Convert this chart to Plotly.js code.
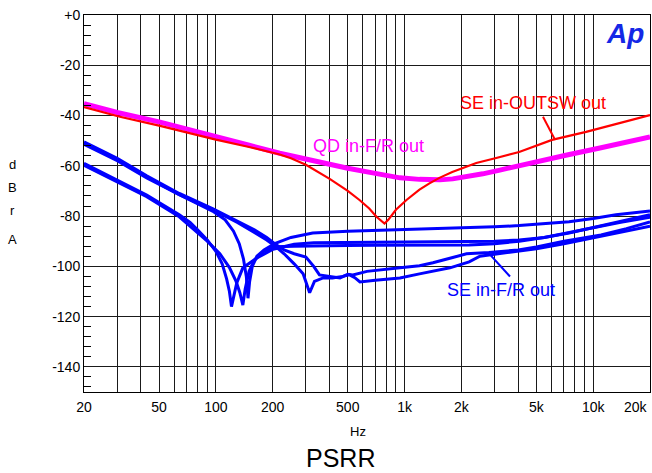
<!DOCTYPE html>
<html>
<head>
<meta charset="utf-8">
<script src="https://cdn.plot.ly/plotly-3.0.1.min.js"></script>
<style>html,body{margin:0;padding:0;background:#fff;}#chart{width:652px;height:473px;}</style>
</head>
<body>
<div id="chart"></div>
<script>
// ---- data ----
const redFreq = [20, 31, 50, 90, 100, 150, 218, 250, 300, 401, 500, 577, 650, 710, 750, 783, 820, 900, 1024, 1200, 1355, 1530, 1790, 2400, 3060, 4050, 6050, 9170, 13000, 20000];
const redDb   = [-36.6, -40.5, -44, -48.8, -49.6, -52.5, -55.5, -57, -59.6, -65.2, -70, -73.6, -77, -80.3, -82, -83, -81.5, -77.5, -73.6, -69.5, -67, -64.8, -62.5, -58.9, -56.9, -54.5, -49.7, -46.5, -43.5, -39.8];

const magFreq = [20, 30, 50, 90, 150, 218, 300, 500, 700, 946, 1200, 1540, 1800, 2140, 2600, 3200, 4790, 7260, 10850, 14500, 20000];
const magDb   = [-35.3, -38.8, -42.5, -47.7, -51.8, -55, -57.5, -61, -63, -64.8, -65.4, -65.6, -65.2, -64.4, -63.2, -61.7, -58.5, -55.7, -52.9, -50.8, -48.5];

const b1Freq = [20, 30, 43, 64, 73, 80, 90, 100, 108, 114, 118, 121, 125, 129, 139, 165, 201, 260, 330, 500, 700, 1000, 1500, 2200, 3000, 4050, 5500, 7450, 10000, 14000, 20000];
const b1Db   = [-59, -65.5, -71.6, -79.5, -82.5, -85.5, -89.5, -94, -99, -105, -110, -116, -111, -106.6, -100.6, -96.7, -93.2, -91.2, -90.6, -90.5, -90.5, -90.3, -90.3, -90.3, -90, -89.5, -88.5, -86.7, -84.5, -82, -79.5];

const b2Freq = [20, 30, 43, 64, 73, 90, 105, 118, 128, 134, 139, 143, 150, 160, 180, 205, 260, 330, 500, 700, 1000, 1500, 2200, 3000, 4050, 5500, 7450, 10000, 14000, 20000];
const b2Db   = [-59.8, -66.3, -72.3, -80.3, -84, -90, -95, -100.5, -106, -110.5, -115.4, -109, -102, -97.5, -94, -92.2, -92, -91.8, -91.7, -91.6, -91.5, -91.5, -91.5, -91, -90, -88.5, -86.5, -84.5, -82.5, -80.5];

const b3Freq = [20, 30, 43, 64, 96, 112, 124, 133, 140, 145, 148, 151, 156, 165, 180, 205, 250, 326, 500, 700, 1000, 1500, 2200, 3000, 4050, 5500, 7450, 10000, 13200, 20000];
const b3Db   = [-51, -57.5, -64.4, -71.5, -78, -81.5, -86, -91, -97, -104, -112.7, -106, -100, -96, -93.5, -91, -88.5, -86.7, -86, -85.7, -85.5, -85.2, -84.7, -84.3, -83.8, -83, -82.3, -81, -79.5, -78];

const b4Freq = [20, 30, 43, 64, 96, 130, 160, 186, 205, 230, 260, 300, 330, 354, 415, 455, 500, 532, 632, 750, 946, 1200, 1414, 1800, 2130, 2800, 4000, 5000, 7000, 11000, 15000, 20000];
const b4Db   = [-50.5, -57, -64, -71, -77, -82, -85.5, -88.5, -91, -93.5, -95, -96.3, -100, -103.4, -104.2, -104.6, -103.2, -103.4, -102, -101.5, -100.6, -99.8, -98.6, -96.5, -95, -94.5, -93.5, -92.3, -90, -87.5, -85, -82.3];

const b5Freq = [20, 30, 43, 64, 96, 130, 160, 186, 205, 230, 260, 290, 314, 333, 370, 415, 470, 511, 545, 580, 700, 800, 945, 1200, 1500, 1740, 2200, 2510, 3500, 5000, 7000, 11000, 15000, 20000];
const b5Db   = [-51.5, -58, -64.8, -71.5, -77.5, -82.5, -86.5, -89.5, -91.8, -95, -99, -103, -110.5, -106, -104.6, -104.6, -104, -103.4, -104.5, -106.2, -105.5, -105, -104.6, -103, -101.5, -100.6, -98.2, -96, -94.5, -93, -91, -88, -86, -84];

const yTickVals = [0, -20, -40, -60, -80, -100, -120, -140];
const yTickText = ['+0', '-20', '-40', '-60', '-80', '-100', '-120', '-140'];
const xLabels = {20: '20', 50: '50', 100: '100', 200: '200', 500: '500', 1000: '1k', 2000: '2k', 5000: '5k', 10000: '10k'};
const xLastLabel = '20k';

// ---- build grid ticks ----
const xGrid = [];
[10, 100, 1000, 10000].forEach(d => { for (let m = 1; m <= 9; m++) { const v = d * m; if (v >= 20 && v <= 20000) xGrid.push(v); } });
const xGridText = xGrid.map(v => xLabels[v] || '');
const yMinor = [];
for (let v = -148; v < 0; v += 4) { if (v % 20 !== 0) yMinor.push(v); }

const BLUE = '#0000ff';
const FAM = 'Liberation Sans, Arial, sans-serif';
const tickFont = {family: FAM, size: 14, color: '#000'};
const blueLine = {color: BLUE, width: 3};

const traces = [
  {x: b1Freq, y: b1Db, mode: 'lines', line: blueLine},
  {x: b2Freq, y: b2Db, mode: 'lines', line: blueLine},
  {x: b3Freq, y: b3Db, mode: 'lines', line: blueLine},
  {x: b4Freq, y: b4Db, mode: 'lines', line: blueLine},
  {x: b5Freq, y: b5Db, mode: 'lines', line: blueLine},
  {x: magFreq, y: magDb, mode: 'lines', line: {color: '#ff00ff', width: 5}},
  {x: redFreq, y: redDb, mode: 'lines', line: {color: '#ff0000', width: 2.2}}
];

// pixel helpers for paper positioning of text decorations
const PL = 84, PW = 566, PB = 392.7, PH = 377.7;
const px = v => (v - PL) / PW;
const py = v => (PB - v) / PH;
const txt = (text, x, y, size, color, extra) => Object.assign({
  text: text, xref: 'paper', yref: 'paper', x: px(x), y: py(y),
  xanchor: 'center', yanchor: 'middle', showarrow: false,
  font: {family: FAM, size: size, color: color}
}, extra || {});

const layout = {
  width: 652, height: 473,
  margin: {l: 84, r: 2, t: 15, b: 81, pad: 0},
  paper_bgcolor: '#fff', plot_bgcolor: '#fff',
  showlegend: false,
  font: tickFont,
  xaxis: {
    type: 'log', range: [Math.log10(20), Math.log10(20000)],
    tickmode: 'array', tickvals: xGrid, ticktext: xGridText,
    showgrid: true, gridcolor: '#1a1a1a', gridwidth: 1,
    ticks: '', showline: true, linecolor: '#000', linewidth: 1, mirror: true,
    tickfont: tickFont, ticklabelstandoff: 2, zeroline: false
  },
  yaxis: {
    range: [-150, 0],
    tickmode: 'array', tickvals: yTickVals, ticktext: yTickText,
    showgrid: true, gridcolor: '#1a1a1a', gridwidth: 1,
    ticks: '', showline: true, linecolor: '#000', linewidth: 1, mirror: true,
    tickfont: tickFont, zeroline: false, ticklabelstandoff: 0,
    minor: {tickmode: 'array', tickvals: yMinor, ticks: 'inside', ticklen: 7, tickcolor: '#000', tickwidth: 1, showgrid: false}
  },
  shapes: [
    {type: 'line', xref: 'paper', yref: 'paper', x0: px(543), y0: py(117), x1: px(555), y1: py(140), line: {color: '#ff0000', width: 2}},
    {type: 'line', xref: 'paper', yref: 'paper', x0: px(490), y0: py(255), x1: px(510), y1: py(277), line: {color: BLUE, width: 2}}
  ],
  annotations: [
    txt('SE in-OUTSW out', 533, 103, 18, '#ff0000'),
    txt('QD in-F/R out', 368, 146, 18, '#ff00ff'),
    txt('SE in-F/R out', 501, 291, 18, BLUE),
    txt('<b><i>Ap</i></b>', 625, 34, 28, '#1428e6'),
    txt(xLastLabel, 650, 408, 14, '#000', {x: 1, xanchor: 'right'}),
    txt('Hz', 358, 432, 13, '#000'),
    txt('PSRR', 340, 459, 25, '#000'),
    txt('d', 12, 165, 13, '#000'),
    txt('B', 12, 188, 13, '#000'),
    txt('r', 12, 211, 13, '#000'),
    txt('A', 12, 240, 13, '#000')
  ]
};

Plotly.newPlot('chart', traces, layout, {displayModeBar: false, staticPlot: true});
</script>
</body>
</html>
